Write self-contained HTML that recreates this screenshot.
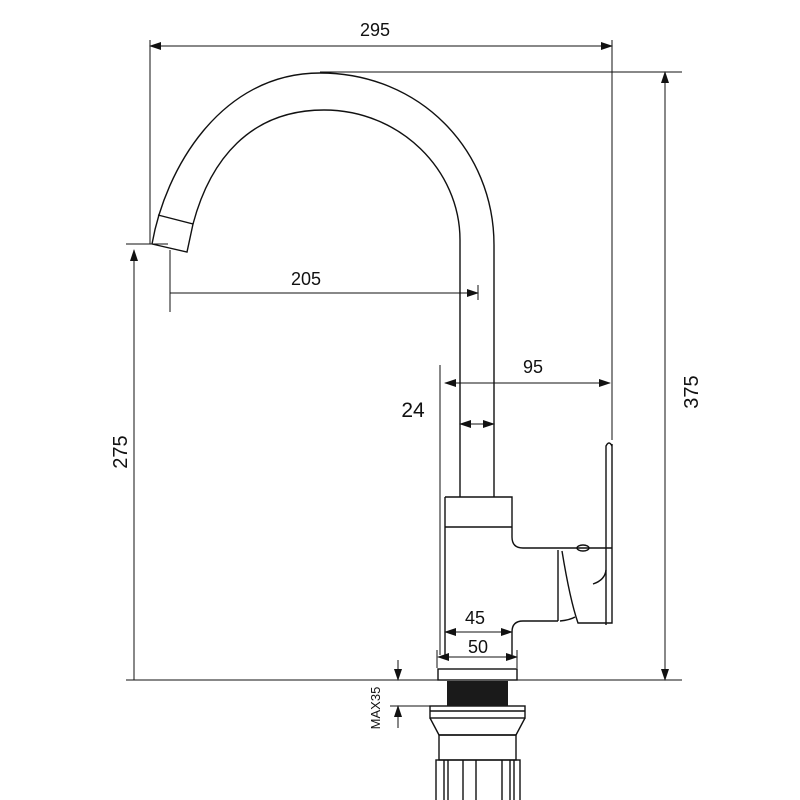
<!DOCTYPE html>
<html><head><meta charset="utf-8"><style>body{margin:0;background:#fff}svg{display:block}text{font-family:"Liberation Sans",sans-serif;fill:#111}</style></head><body>
<svg width="800" height="800" viewBox="0 0 800 800">
<defs><marker id="a" markerWidth="12" markerHeight="8" refX="11" refY="4" orient="auto-start-reverse" markerUnits="userSpaceOnUse"><path d="M0,0 L12,4 L0,8 Z" fill="#111"/></marker></defs>
<g fill="none" stroke="#111" stroke-width="1.4">
<!-- spout -->
<path d="M152,244 C165,170 220,73 320,73 C420,73 494,150 494,245 L494,497"/>
<path d="M193,224 C210,160 250,110 324,110 C400,110 460,170 460,240 L460,497"/>
<path d="M158,215 L193,224 L187,252 L152,244"/>
<!-- body -->
<path d="M445,497 H512 V537 Q512,548 523,548 H612"/>
<line x1="445" y1="527" x2="512" y2="527"/>
<path d="M445,497 V655"/>
<path d="M512,655 V632 Q512,621 523,621 H558"/>
<path d="M558,550 V621"/>
<path d="M562,551 Q570,600 578,623 H612 V444"/>
<path d="M606,625 V446 Q609,440 612,446"/>
<path d="M560,621 Q570,620 575,617"/>
<path d="M593,584 Q605,580 606,570"/>
<ellipse cx="583" cy="548" rx="6" ry="3"/>
<!-- base -->
<rect x="438" y="669" width="79" height="11"/>
<rect x="430" y="706" width="95" height="12"/>
<line x1="430" y1="711" x2="525" y2="711"/>
<path d="M430,718 L439,735 H516 L525,718"/>
<rect x="439" y="735" width="77" height="25"/>
<rect x="436" y="760" width="84" height="45"/>
<path d="M444,760V800M448,760V800M463,760V800M476,760V800M502,760V800M510,760V800M514,760V800"/>
</g>
<rect x="447" y="681" width="61" height="25" fill="#1a1a1a"/>
<g fill="none" stroke="#111" stroke-width="1">
<!-- extension lines -->
<line x1="150" y1="40" x2="150" y2="244"/>
<line x1="612" y1="40" x2="612" y2="440"/>
<line x1="320" y1="72" x2="682" y2="72"/>
<line x1="126" y1="680" x2="682" y2="680"/>
<line x1="126" y1="244" x2="168" y2="244"/>
<line x1="170" y1="250" x2="170" y2="312"/>
<line x1="478" y1="285" x2="478" y2="300"/>
<line x1="440" y1="365" x2="440" y2="655"/>
<line x1="437" y1="650" x2="437" y2="668"/>
<line x1="517" y1="650" x2="517" y2="668"/>
<line x1="390" y1="706" x2="430" y2="706"/>
<line x1="390" y1="680" x2="420" y2="680"/>
<!-- dims -->
<line x1="150" y1="46" x2="612" y2="46" marker-start="url(#a)" marker-end="url(#a)"/>
<line x1="665" y1="72" x2="665" y2="680" marker-start="url(#a)" marker-end="url(#a)"/>
<line x1="134" y1="680" x2="134" y2="250" marker-end="url(#a)"/>
<line x1="170" y1="293" x2="478" y2="293" marker-end="url(#a)"/>
<line x1="445" y1="383" x2="610" y2="383" marker-start="url(#a)" marker-end="url(#a)"/>
<line x1="460" y1="424" x2="494" y2="424" marker-start="url(#a)" marker-end="url(#a)"/>
<line x1="445" y1="632" x2="512" y2="632" marker-start="url(#a)" marker-end="url(#a)"/>
<line x1="438" y1="657" x2="517" y2="657" marker-start="url(#a)" marker-end="url(#a)"/>
<line x1="398" y1="660" x2="398" y2="680" marker-end="url(#a)"/>
<line x1="398" y1="728" x2="398" y2="706" marker-end="url(#a)"/>
</g>
<g font-size="18">
<text x="375" y="36" text-anchor="middle">295</text>
<text x="306" y="285" text-anchor="middle">205</text>
<text x="533" y="373" text-anchor="middle">95</text>
<text x="475" y="624" text-anchor="middle">45</text>
<text x="478" y="653" text-anchor="middle">50</text>
<text x="413" y="417" text-anchor="middle" font-size="21">24</text>
<text transform="translate(127,452) rotate(-90)" text-anchor="middle" font-size="20">275</text>
<text transform="translate(698,392) rotate(-90)" text-anchor="middle" font-size="20">375</text>
<text transform="translate(380,708) rotate(-90)" text-anchor="middle" font-size="13">MAX35</text>
</g>
</svg>
</body></html>
